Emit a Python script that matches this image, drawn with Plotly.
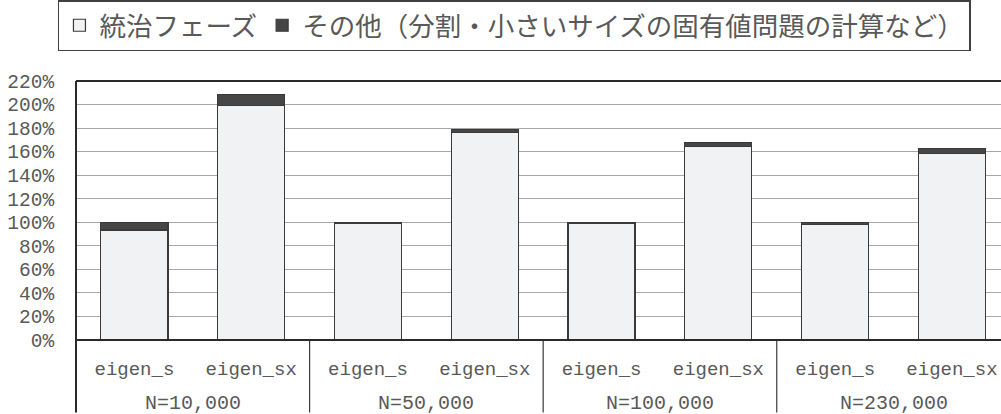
import plotly.graph_objects as go

categories = ["eigen_s", "eigen_sx", "eigen_s", "eigen_sx", "eigen_s", "eigen_sx", "eigen_s", "eigen_sx"]
groups = ["N=10,000", "N=50,000", "N=100,000", "N=230,000"]
integration = [93.5, 199.0, 98.8, 176.0, 98.8, 164.6, 97.8, 158.5]
other = [6.5, 9.6, 1.2, 3.0, 1.2, 3.3, 2.2, 4.0]
series_names = ["統治フェーズ", "その他（分割・小さいサイズの固有値問題の計算など）"]
y_ticks = list(range(0, 221, 20))

x_idx = list(range(len(categories)))
TXT = "#595959"
MONO = "Liberation Mono, DejaVu Sans Mono, monospace"
CJK = "Noto Sans CJK JP, sans-serif"

fig = go.Figure()
fig.add_trace(go.Bar(x=x_idx, y=integration, name=series_names[0],
                     marker=dict(color="#f1f2f4", line=dict(color="#3a3a3a", width=1.2))))
fig.add_trace(go.Bar(x=x_idx, y=other, name=series_names[1],
                     marker=dict(color="#464646", line=dict(color="#3a3a3a", width=1.2))))

shapes = []
# group separators extending below the axis
for g in range(1, len(groups)):
    xs = 2 * g - 0.5
    shapes.append(dict(type="line", xref="x", yref="paper", x0=xs, x1=xs, y0=-0.28, y1=0,
                       line=dict(color="#3a3a3a", width=1.2)))
# left frame line extending down
shapes.append(dict(type="line", xref="paper", yref="paper", x0=0, x1=0, y0=-0.28, y1=1,
                   line=dict(color="#2a2a2a", width=2)))
# top frame line
shapes.append(dict(type="line", xref="paper", yref="paper", x0=0, x1=1, y0=1, y1=1,
                   line=dict(color="#2a2a2a", width=2)))
# bottom axis line
shapes.append(dict(type="line", xref="paper", yref="paper", x0=0, x1=1, y0=0, y1=0,
                   line=dict(color="#2a2a2a", width=2)))

annotations = []
for g, name in enumerate(groups):
    annotations.append(dict(x=2 * g + 0.5, xref="x", y=-0.245, yref="paper", text=name,
                            showarrow=False, xanchor="center", yanchor="middle",
                            font=dict(family=MONO, size=20, color=TXT)))

fig.update_layout(
    width=1001, height=414,
    margin=dict(l=76, r=0, t=70, b=74),
    paper_bgcolor="white", plot_bgcolor="white",
    barmode="stack", bargap=0.426,
    showlegend=True,
    legend=dict(orientation="h", x=0.474, xref="paper", xanchor="center",
                y=1.215, yanchor="middle", traceorder="normal",
                bordercolor="#404040", borderwidth=1.5, bgcolor="white",
                font=dict(family=CJK, size=26.5, color=TXT),
                itemwidth=30, tracegroupgap=0),
    xaxis=dict(range=[-0.5, 7.42], tickmode="array", tickvals=x_idx, ticktext=categories,
               showgrid=False, zeroline=False, showline=False,
               ticks="outside", ticklen=11, tickcolor="rgba(0,0,0,0)",
               tickfont=dict(family=MONO, size=19, color=TXT)),
    yaxis=dict(range=[0, 220], tickmode="array", tickvals=y_ticks,
               ticktext=[f"{v}%" for v in y_ticks],
               showgrid=True, gridcolor="#a8a8a8", gridwidth=1.3,
               zeroline=False, showline=False,
               ticks="outside", ticklen=17, tickcolor="rgba(0,0,0,0)",
               tickfont=dict(family=MONO, size=19.5, color=TXT)),
    shapes=shapes, annotations=annotations,
)

fig.write_html("out.html")
